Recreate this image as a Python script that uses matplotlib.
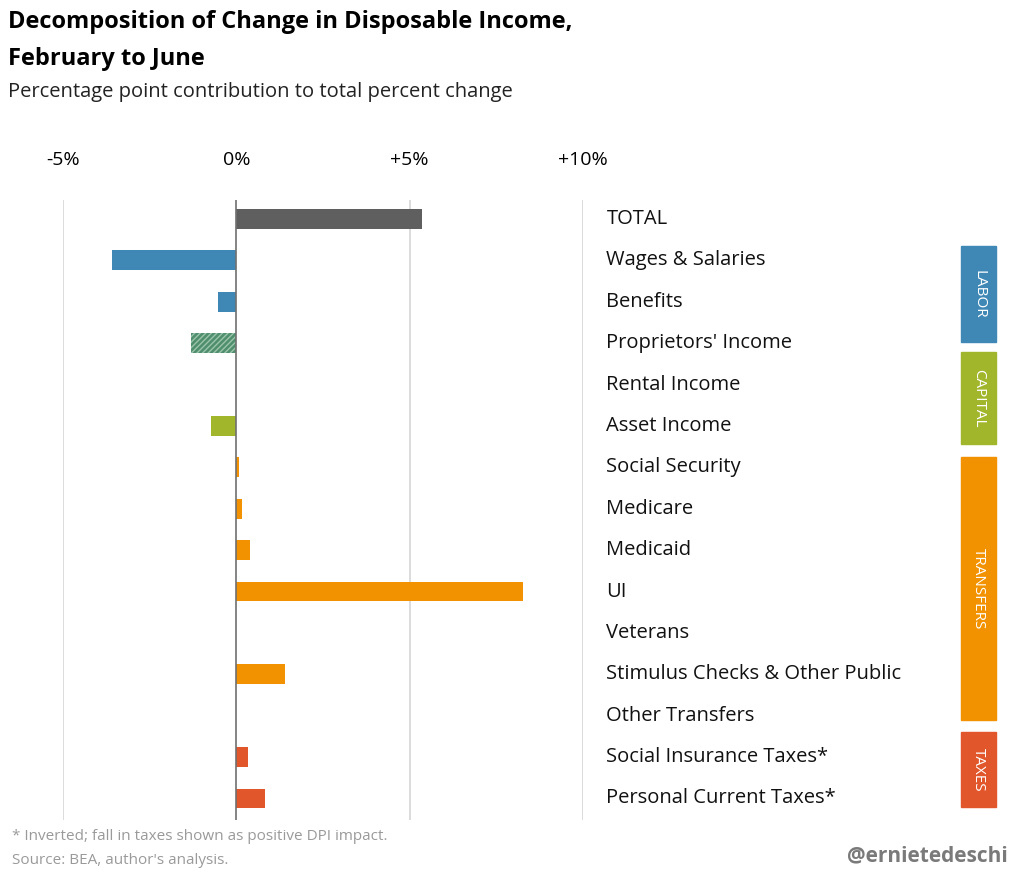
import numpy as np
import matplotlib.pyplot as plt

plt.rcParams['font.family'] = ['Open Sans', 'DejaVu Sans']

labels = ["TOTAL", "Wages & Salaries", "Benefits", "Proprietors' Income",
          "Rental Income", "Asset Income", "Social Security", "Medicare",
          "Medicaid", "UI", "Veterans", "Stimulus Checks & Other Public",
          "Other Transfers", "Social Insurance Taxes*", "Personal Current Taxes*"]
values = [5.36, -3.6, -0.52, -1.3, 0.0, -0.72, 0.08, 0.17, 0.38, 8.27, 0.0,
          1.41, 0.0, 0.35, 0.84]
groups = ["total", "labor", "labor", "mixed", "capital", "capital",
          "transfers", "transfers", "transfers", "transfers", "transfers",
          "transfers", "transfers", "taxes", "taxes"]
colors = {"total": "#5f5f5f", "labor": "#3f88b6", "capital": "#a2b62c",
          "transfers": "#f39200", "taxes": "#e2562b", "mixed": "#4f8f6d"}

# band name, top row, bottom row, colour
bands = [("LABOR", 0.65, 2.97, colors["labor"]),
         ("CAPITAL", 3.21, 5.43, colors["capital"]),
         ("TRANSFERS", 5.75, 12.1, colors["transfers"]),
         ("TAXES", 12.4, 14.2, colors["taxes"])]

fig = plt.figure(figsize=(10.24, 8.76), dpi=100)
ax = fig.add_axes([63/1024, 1 - 820/876, 520/1024, 620/876])

y = np.arange(len(labels))
for i, (v, g) in enumerate(zip(values, groups)):
    if g == "mixed":
        ax.barh(i, v, height=0.48, color=colors[g], hatch="//////",
                edgecolor="#9cc4ad", linewidth=0, zorder=3)
    else:
        ax.barh(i, v, height=0.48, color=colors[g], zorder=3)

ax.set_xlim(-5, 10)
ax.set_ylim(14.52, -0.46)
for xv in [-5, 5, 10]:
    ax.axvline(xv, color="#d5d5d5", lw=1.2, zorder=1)
ax.axvline(0, color="#707070", lw=1.2, zorder=4)
for s in ax.spines.values():
    s.set_visible(False)
ax.set_yticks([])
ax.set_xticks([-5, 0, 5, 10])
ax.set_xticklabels(["-5%", "0%", "+5%", "+10%"], fontsize=14)
ax.xaxis.tick_top()
ax.tick_params(axis="x", length=0, pad=22)

for i, lab in enumerate(labels):
    ax.text(1.045, i, lab, transform=ax.get_yaxis_transform(), fontsize=14.5,
            va="center", ha="left", color="#111111")

bx = (961 - 63) / 520
bw = 35 / 520
for name, top, bot, c in bands:
    ax.add_patch(plt.Rectangle((bx, top), bw, bot - top, color=c,
                               transform=ax.get_yaxis_transform(), clip_on=False))
    ax.text(bx + bw / 2, (top + bot) / 2, name, transform=ax.get_yaxis_transform(),
            rotation=270, ha="center", va="center", color="white", fontsize=11)

fig.text(8/1024, 1 - 22/876, "Decomposition of Change in Disposable Income,",
         fontsize=17, fontweight="bold", va="center")
fig.text(8/1024, 1 - 59/876, "February to June", fontsize=17,
         fontweight="bold", va="center")
fig.text(8/1024, 1 - 92/876, "Percentage point contribution to total percent change",
         fontsize=14.5, va="center", color="#222222")
fig.text(12/1024, 1 - 836/876, "* Inverted; fall in taxes shown as positive DPI impact.",
         fontsize=11, color="#9a9a9a", va="center")
fig.text(12/1024, 1 - 860/876, "Source: BEA, author's analysis.",
         fontsize=11, color="#9a9a9a", va="center")
fig.text(1008/1024, 1 - 856/876, "@ernietedeschi", fontsize=15,
         fontweight="bold", color="#7a7a7a", ha="right", va="center")

fig.savefig("out.png", dpi=100)
